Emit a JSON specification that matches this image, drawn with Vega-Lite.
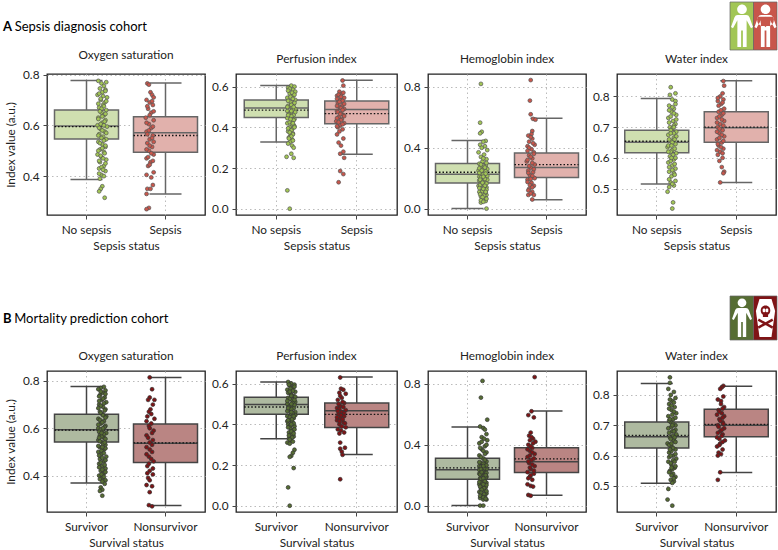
{"$schema":"https://vega.github.io/schema/vega-lite/v6.json","background":"white","padding":{"left":3,"top":1,"right":0,"bottom":0},"columns":4,"bounds":"flush","align":"each","spacing":{"column":31,"row":20},
"config":{"font":"Lato","view":{"stroke":"#222","strokeWidth":1.3},"point":{"opacity":1},"axis":{"labelFontSize":11.8,"titleFontSize":11.8,"titleFontWeight":"normal","labelColor":"#222","titleColor":"#222","domain":false,"tickColor":"#444","tickSize":4,"grid":true,"gridColor":"#bbb","gridDash":[1.5,3],"gridWidth":1},"axisX":{"labelAngle":0,"labelPadding":5,"titlePadding":5},"axisY":{"labelPadding":4,"titlePadding":6},"title":{"fontSize":11.8,"fontWeight":"normal","color":"#222","offset":8}},
"datasets":{
"a1b":[{"c":"No sepsis","lo":0.387,"q1":0.546,"med":0.597,"q3":0.66,"hi":0.776,"mean":0.595},{"c":"Sepsis","lo":0.33,"q1":0.494,"med":0.571,"q3":0.634,"hi":0.767,"mean":0.56}],
"a2b":[{"c":"No sepsis","lo":0.328,"q1":0.448,"med":0.495,"q3":0.534,"hi":0.605,"mean":0.484},{"c":"Sepsis","lo":0.267,"q1":0.418,"med":0.487,"q3":0.529,"hi":0.631,"mean":0.467}],
"a3b":[{"c":"No sepsis","lo":0,"q1":0.169,"med":0.226,"q3":0.296,"hi":0.447,"mean":0.239},{"c":"Sepsis","lo":0.059,"q1":0.204,"med":0.27,"q3":0.366,"hi":0.594,"mean":0.289}],
"a4b":[{"c":"No sepsis","lo":0.515,"q1":0.617,"med":0.651,"q3":0.69,"hi":0.793,"mean":0.654},{"c":"Sepsis","lo":0.52,"q1":0.651,"med":0.698,"q3":0.75,"hi":0.851,"mean":0.7}],
"b1b":[{"c":"Survivor","lo":0.369,"q1":0.542,"med":0.594,"q3":0.659,"hi":0.776,"mean":0.592},{"c":"Nonsurvivor","lo":0.273,"q1":0.455,"med":0.537,"q3":0.618,"hi":0.815,"mean":0.538}],
"b2b":[{"c":"Survivor","lo":0.329,"q1":0.449,"med":0.497,"q3":0.533,"hi":0.608,"mean":0.485},{"c":"Nonsurvivor","lo":0.251,"q1":0.384,"med":0.467,"q3":0.505,"hi":0.633,"mean":0.449}],
"b3b":[{"c":"Survivor","lo":0,"q1":0.173,"med":0.235,"q3":0.311,"hi":0.517,"mean":0.248},{"c":"Nonsurvivor","lo":0.068,"q1":0.217,"med":0.289,"q3":0.381,"hi":0.622,"mean":0.307}],
"b4b":[{"c":"Survivor","lo":0.509,"q1":0.625,"med":0.662,"q3":0.711,"hi":0.838,"mean":0.667},{"c":"Nonsurvivor","lo":0.544,"q1":0.662,"med":0.7,"q3":0.753,"hi":0.829,"mean":0.703}],
"a1p":[{"c":"No sepsis","v":0.775,"o":0.15},{"c":"No sepsis","v":0.77,"o":0.25},{"c":"No sepsis","v":0.765,"o":0.19},{"c":"No sepsis","v":0.755,"o":0.22},{"c":"No sepsis","v":0.745,"o":0.17},{"c":"No sepsis","v":0.74,"o":0.24},{"c":"No sepsis","v":0.73,"o":0.2},{"c":"No sepsis","v":0.72,"o":0.14},{"c":"No sepsis","v":0.71,"o":0.26},{"c":"No sepsis","v":0.7,"o":0.18},{"c":"No sepsis","v":0.69,"o":0.23},{"c":"No sepsis","v":0.68,"o":0.21},{"c":"No sepsis","v":0.67,"o":0.16},{"c":"No sepsis","v":0.66,"o":0.25},{"c":"No sepsis","v":0.65,"o":0.19},{"c":"No sepsis","v":0.64,"o":0.22},{"c":"No sepsis","v":0.63,"o":0.15},{"c":"No sepsis","v":0.62,"o":0.24},{"c":"No sepsis","v":0.61,"o":0.2},{"c":"No sepsis","v":0.6,"o":0.14},{"c":"No sepsis","v":0.595,"o":0.26},{"c":"No sepsis","v":0.585,"o":0.18},{"c":"No sepsis","v":0.575,"o":0.23},{"c":"No sepsis","v":0.565,"o":0.16},{"c":"No sepsis","v":0.555,"o":0.21},{"c":"No sepsis","v":0.545,"o":0.25},{"c":"No sepsis","v":0.535,"o":0.15},{"c":"No sepsis","v":0.525,"o":0.2},{"c":"No sepsis","v":0.515,"o":0.24},{"c":"No sepsis","v":0.505,"o":0.17},{"c":"No sepsis","v":0.495,"o":0.22},{"c":"No sepsis","v":0.485,"o":0.14},{"c":"No sepsis","v":0.475,"o":0.19},{"c":"No sepsis","v":0.465,"o":0.25},{"c":"No sepsis","v":0.455,"o":0.17},{"c":"No sepsis","v":0.44,"o":0.22},{"c":"No sepsis","v":0.43,"o":0.16},{"c":"No sepsis","v":0.42,"o":0.24},{"c":"No sepsis","v":0.405,"o":0.19},{"c":"No sepsis","v":0.39,"o":0.17},{"c":"No sepsis","v":0.36,"o":0.2},{"c":"No sepsis","v":0.35,"o":0.18},{"c":"No sepsis","v":0.34,"o":0.16},{"c":"No sepsis","v":0.315,"o":0.23},{"c":"No sepsis","v":0.735,"o":0.24},{"c":"No sepsis","v":0.725,"o":0.16},{"c":"No sepsis","v":0.715,"o":0.21},{"c":"No sepsis","v":0.705,"o":0.18},{"c":"No sepsis","v":0.695,"o":0.25},{"c":"No sepsis","v":0.685,"o":0.15},{"c":"No sepsis","v":0.675,"o":0.22},{"c":"No sepsis","v":0.665,"o":0.19},{"c":"No sepsis","v":0.655,"o":0.17},{"c":"No sepsis","v":0.645,"o":0.24},{"c":"No sepsis","v":0.635,"o":0.2},{"c":"No sepsis","v":0.625,"o":0.15},{"c":"No sepsis","v":0.615,"o":0.23},{"c":"No sepsis","v":0.605,"o":0.18},{"c":"No sepsis","v":0.6,"o":0.22},{"c":"No sepsis","v":0.59,"o":0.16},{"c":"No sepsis","v":0.58,"o":0.2},{"c":"No sepsis","v":0.57,"o":0.25},{"c":"No sepsis","v":0.56,"o":0.15},{"c":"No sepsis","v":0.55,"o":0.19},{"c":"No sepsis","v":0.54,"o":0.22},{"c":"No sepsis","v":0.53,"o":0.17},{"c":"No sepsis","v":0.52,"o":0.24},{"c":"No sepsis","v":0.51,"o":0.2},{"c":"No sepsis","v":0.5,"o":0.15},{"c":"No sepsis","v":0.49,"o":0.23},{"c":"No sepsis","v":0.48,"o":0.18},{"c":"No sepsis","v":0.47,"o":0.21},{"c":"No sepsis","v":0.46,"o":0.16},{"c":"No sepsis","v":0.45,"o":0.24},{"c":"No sepsis","v":0.435,"o":0.19},{"c":"No sepsis","v":0.425,"o":0.21},{"c":"No sepsis","v":0.41,"o":0.16},{"c":"No sepsis","v":0.4,"o":0.22},{"c":"Sepsis","v":0.765,"o":-0.23},{"c":"Sepsis","v":0.76,"o":-0.21},{"c":"Sepsis","v":0.73,"o":-0.19},{"c":"Sepsis","v":0.72,"o":-0.17},{"c":"Sepsis","v":0.71,"o":-0.15},{"c":"Sepsis","v":0.7,"o":-0.24},{"c":"Sepsis","v":0.69,"o":-0.2},{"c":"Sepsis","v":0.68,"o":-0.16},{"c":"Sepsis","v":0.665,"o":-0.22},{"c":"Sepsis","v":0.65,"o":-0.18},{"c":"Sepsis","v":0.63,"o":-0.25},{"c":"Sepsis","v":0.62,"o":-0.15},{"c":"Sepsis","v":0.605,"o":-0.21},{"c":"Sepsis","v":0.59,"o":-0.18},{"c":"Sepsis","v":0.575,"o":-0.24},{"c":"Sepsis","v":0.56,"o":-0.16},{"c":"Sepsis","v":0.545,"o":-0.2},{"c":"Sepsis","v":0.53,"o":-0.23},{"c":"Sepsis","v":0.515,"o":-0.17},{"c":"Sepsis","v":0.5,"o":-0.21},{"c":"Sepsis","v":0.485,"o":-0.15},{"c":"Sepsis","v":0.47,"o":-0.24},{"c":"Sepsis","v":0.455,"o":-0.19},{"c":"Sepsis","v":0.44,"o":-0.22},{"c":"Sepsis","v":0.415,"o":-0.15},{"c":"Sepsis","v":0.405,"o":-0.24},{"c":"Sepsis","v":0.395,"o":-0.18},{"c":"Sepsis","v":0.365,"o":-0.16},{"c":"Sepsis","v":0.35,"o":-0.23},{"c":"Sepsis","v":0.35,"o":-0.19},{"c":"Sepsis","v":0.33,"o":-0.24},{"c":"Sepsis","v":0.275,"o":-0.21},{"c":"Sepsis","v":0.27,"o":-0.24},{"c":"Sepsis","v":0.695,"o":-0.17},{"c":"Sepsis","v":0.675,"o":-0.23},{"c":"Sepsis","v":0.655,"o":-0.15},{"c":"Sepsis","v":0.64,"o":-0.2},{"c":"Sepsis","v":0.61,"o":-0.24},{"c":"Sepsis","v":0.595,"o":-0.16},{"c":"Sepsis","v":0.58,"o":-0.21},{"c":"Sepsis","v":0.565,"o":-0.23},{"c":"Sepsis","v":0.55,"o":-0.17},{"c":"Sepsis","v":0.535,"o":-0.15},{"c":"Sepsis","v":0.52,"o":-0.2},{"c":"Sepsis","v":0.505,"o":-0.24},{"c":"Sepsis","v":0.49,"o":-0.18},{"c":"Sepsis","v":0.475,"o":-0.22},{"c":"Sepsis","v":0.46,"o":-0.16},{"c":"Sepsis","v":0.445,"o":-0.2}],
"a2p":[{"c":"No sepsis","v":0.605,"o":0.2},{"c":"No sepsis","v":0.6,"o":0.24},{"c":"No sepsis","v":0.595,"o":0.16},{"c":"No sepsis","v":0.585,"o":0.22},{"c":"No sepsis","v":0.575,"o":0.25},{"c":"No sepsis","v":0.565,"o":0.18},{"c":"No sepsis","v":0.555,"o":0.22},{"c":"No sepsis","v":0.545,"o":0.15},{"c":"No sepsis","v":0.535,"o":0.25},{"c":"No sepsis","v":0.525,"o":0.19},{"c":"No sepsis","v":0.515,"o":0.23},{"c":"No sepsis","v":0.505,"o":0.16},{"c":"No sepsis","v":0.495,"o":0.21},{"c":"No sepsis","v":0.49,"o":0.25},{"c":"No sepsis","v":0.48,"o":0.15},{"c":"No sepsis","v":0.47,"o":0.19},{"c":"No sepsis","v":0.46,"o":0.23},{"c":"No sepsis","v":0.45,"o":0.17},{"c":"No sepsis","v":0.44,"o":0.24},{"c":"No sepsis","v":0.43,"o":0.2},{"c":"No sepsis","v":0.42,"o":0.15},{"c":"No sepsis","v":0.41,"o":0.23},{"c":"No sepsis","v":0.4,"o":0.18},{"c":"No sepsis","v":0.39,"o":0.21},{"c":"No sepsis","v":0.38,"o":0.16},{"c":"No sepsis","v":0.37,"o":0.22},{"c":"No sepsis","v":0.36,"o":0.19},{"c":"No sepsis","v":0.35,"o":0.17},{"c":"No sepsis","v":0.34,"o":0.21},{"c":"No sepsis","v":0.33,"o":0.19},{"c":"No sepsis","v":0.32,"o":0.16},{"c":"No sepsis","v":0.31,"o":0.21},{"c":"No sepsis","v":0.3,"o":0.23},{"c":"No sepsis","v":0.27,"o":0.2},{"c":"No sepsis","v":0.255,"o":0.14},{"c":"No sepsis","v":0.25,"o":0.23},{"c":"No sepsis","v":0.09,"o":0.15},{"c":"No sepsis","v":0,"o":0.18},{"c":"No sepsis","v":0.59,"o":0.18},{"c":"No sepsis","v":0.58,"o":0.16},{"c":"No sepsis","v":0.57,"o":0.21},{"c":"No sepsis","v":0.56,"o":0.24},{"c":"No sepsis","v":0.55,"o":0.19},{"c":"No sepsis","v":0.54,"o":0.22},{"c":"No sepsis","v":0.53,"o":0.16},{"c":"No sepsis","v":0.52,"o":0.24},{"c":"No sepsis","v":0.51,"o":0.2},{"c":"No sepsis","v":0.5,"o":0.15},{"c":"No sepsis","v":0.485,"o":0.22},{"c":"No sepsis","v":0.475,"o":0.25},{"c":"No sepsis","v":0.465,"o":0.17},{"c":"No sepsis","v":0.455,"o":0.2},{"c":"No sepsis","v":0.445,"o":0.15},{"c":"No sepsis","v":0.435,"o":0.23},{"c":"No sepsis","v":0.425,"o":0.18},{"c":"No sepsis","v":0.415,"o":0.21},{"c":"No sepsis","v":0.405,"o":0.24},{"c":"No sepsis","v":0.395,"o":0.16},{"c":"No sepsis","v":0.385,"o":0.2},{"c":"No sepsis","v":0.375,"o":0.18},{"c":"No sepsis","v":0.365,"o":0.22},{"c":"No sepsis","v":0.355,"o":0.2},{"c":"No sepsis","v":0.345,"o":0.17},{"c":"No sepsis","v":0.335,"o":0.22},{"c":"No sepsis","v":0.5,"o":0.23},{"c":"No sepsis","v":0.48,"o":0.2},{"c":"No sepsis","v":0.46,"o":0.16},{"c":"No sepsis","v":0.44,"o":0.19},{"c":"No sepsis","v":0.42,"o":0.22},{"c":"No sepsis","v":0.4,"o":0.24},{"c":"Sepsis","v":0.63,"o":-0.17},{"c":"Sepsis","v":0.605,"o":-0.16},{"c":"Sepsis","v":0.575,"o":-0.21},{"c":"Sepsis","v":0.565,"o":-0.18},{"c":"Sepsis","v":0.555,"o":-0.24},{"c":"Sepsis","v":0.545,"o":-0.15},{"c":"Sepsis","v":0.535,"o":-0.2},{"c":"Sepsis","v":0.52,"o":-0.23},{"c":"Sepsis","v":0.51,"o":-0.17},{"c":"Sepsis","v":0.5,"o":-0.21},{"c":"Sepsis","v":0.49,"o":-0.15},{"c":"Sepsis","v":0.48,"o":-0.24},{"c":"Sepsis","v":0.47,"o":-0.19},{"c":"Sepsis","v":0.46,"o":-0.16},{"c":"Sepsis","v":0.45,"o":-0.22},{"c":"Sepsis","v":0.44,"o":-0.18},{"c":"Sepsis","v":0.43,"o":-0.25},{"c":"Sepsis","v":0.42,"o":-0.15},{"c":"Sepsis","v":0.41,"o":-0.2},{"c":"Sepsis","v":0.4,"o":-0.23},{"c":"Sepsis","v":0.39,"o":-0.17},{"c":"Sepsis","v":0.38,"o":-0.21},{"c":"Sepsis","v":0.365,"o":-0.24},{"c":"Sepsis","v":0.345,"o":-0.16},{"c":"Sepsis","v":0.325,"o":-0.22},{"c":"Sepsis","v":0.31,"o":-0.19},{"c":"Sepsis","v":0.28,"o":-0.16},{"c":"Sepsis","v":0.27,"o":-0.2},{"c":"Sepsis","v":0.25,"o":-0.15},{"c":"Sepsis","v":0.185,"o":-0.2},{"c":"Sepsis","v":0.17,"o":-0.16},{"c":"Sepsis","v":0.13,"o":-0.22},{"c":"Sepsis","v":0.57,"o":-0.16},{"c":"Sepsis","v":0.56,"o":-0.22},{"c":"Sepsis","v":0.55,"o":-0.19},{"c":"Sepsis","v":0.54,"o":-0.24},{"c":"Sepsis","v":0.53,"o":-0.17},{"c":"Sepsis","v":0.525,"o":-0.21},{"c":"Sepsis","v":0.515,"o":-0.15},{"c":"Sepsis","v":0.505,"o":-0.24},{"c":"Sepsis","v":0.495,"o":-0.19},{"c":"Sepsis","v":0.485,"o":-0.17},{"c":"Sepsis","v":0.475,"o":-0.23},{"c":"Sepsis","v":0.465,"o":-0.2},{"c":"Sepsis","v":0.455,"o":-0.15},{"c":"Sepsis","v":0.445,"o":-0.24},{"c":"Sepsis","v":0.435,"o":-0.19},{"c":"Sepsis","v":0.425,"o":-0.22},{"c":"Sepsis","v":0.415,"o":-0.17},{"c":"Sepsis","v":0.405,"o":-0.24}],
"a3p":[{"c":"No sepsis","v":0.82,"o":0.17},{"c":"No sepsis","v":0.565,"o":0.16},{"c":"No sepsis","v":0.505,"o":0.18},{"c":"No sepsis","v":0.495,"o":0.16},{"c":"No sepsis","v":0.445,"o":0.23},{"c":"No sepsis","v":0.44,"o":0.2},{"c":"No sepsis","v":0.42,"o":0.16},{"c":"No sepsis","v":0.41,"o":0.22},{"c":"No sepsis","v":0.4,"o":0.18},{"c":"No sepsis","v":0.385,"o":0.25},{"c":"No sepsis","v":0.37,"o":0.14},{"c":"No sepsis","v":0.355,"o":0.21},{"c":"No sepsis","v":0.34,"o":0.17},{"c":"No sepsis","v":0.325,"o":0.24},{"c":"No sepsis","v":0.31,"o":0.19},{"c":"No sepsis","v":0.295,"o":0.15},{"c":"No sepsis","v":0.28,"o":0.23},{"c":"No sepsis","v":0.27,"o":0.18},{"c":"No sepsis","v":0.26,"o":0.25},{"c":"No sepsis","v":0.25,"o":0.14},{"c":"No sepsis","v":0.24,"o":0.21},{"c":"No sepsis","v":0.23,"o":0.17},{"c":"No sepsis","v":0.22,"o":0.24},{"c":"No sepsis","v":0.21,"o":0.15},{"c":"No sepsis","v":0.2,"o":0.2},{"c":"No sepsis","v":0.19,"o":0.25},{"c":"No sepsis","v":0.18,"o":0.16},{"c":"No sepsis","v":0.17,"o":0.22},{"c":"No sepsis","v":0.16,"o":0.19},{"c":"No sepsis","v":0.15,"o":0.14},{"c":"No sepsis","v":0.14,"o":0.24},{"c":"No sepsis","v":0.13,"o":0.18},{"c":"No sepsis","v":0.12,"o":0.22},{"c":"No sepsis","v":0.11,"o":0.15},{"c":"No sepsis","v":0.1,"o":0.2},{"c":"No sepsis","v":0.09,"o":0.24},{"c":"No sepsis","v":0.08,"o":0.17},{"c":"No sepsis","v":0.07,"o":0.22},{"c":"No sepsis","v":0.06,"o":0.19},{"c":"No sepsis","v":0.05,"o":0.23},{"c":"No sepsis","v":0.04,"o":0.17},{"c":"No sepsis","v":0,"o":0.24},{"c":"No sepsis","v":0.33,"o":0.2},{"c":"No sepsis","v":0.3,"o":0.24},{"c":"No sepsis","v":0.29,"o":0.17},{"c":"No sepsis","v":0.275,"o":0.21},{"c":"No sepsis","v":0.265,"o":0.15},{"c":"No sepsis","v":0.255,"o":0.19},{"c":"No sepsis","v":0.245,"o":0.23},{"c":"No sepsis","v":0.235,"o":0.15},{"c":"No sepsis","v":0.225,"o":0.2},{"c":"No sepsis","v":0.215,"o":0.25},{"c":"No sepsis","v":0.205,"o":0.17},{"c":"No sepsis","v":0.195,"o":0.22},{"c":"No sepsis","v":0.185,"o":0.15},{"c":"No sepsis","v":0.175,"o":0.19},{"c":"No sepsis","v":0.165,"o":0.24},{"c":"No sepsis","v":0.155,"o":0.16},{"c":"No sepsis","v":0.145,"o":0.21},{"c":"No sepsis","v":0.135,"o":0.15},{"c":"No sepsis","v":0.125,"o":0.24},{"c":"No sepsis","v":0.115,"o":0.19},{"c":"No sepsis","v":0.105,"o":0.23},{"c":"No sepsis","v":0.095,"o":0.16},{"c":"No sepsis","v":0.085,"o":0.21},{"c":"No sepsis","v":0.075,"o":0.19},{"c":"No sepsis","v":0.065,"o":0.24},{"c":"No sepsis","v":0.055,"o":0.17},{"c":"No sepsis","v":0.045,"o":0.2},{"c":"No sepsis","v":0.27,"o":0.22},{"c":"No sepsis","v":0.25,"o":0.18},{"c":"No sepsis","v":0.23,"o":0.23},{"c":"No sepsis","v":0.21,"o":0.2},{"c":"No sepsis","v":0.19,"o":0.16},{"c":"No sepsis","v":0.17,"o":0.19},{"c":"No sepsis","v":0.15,"o":0.22},{"c":"No sepsis","v":0.13,"o":0.2},{"c":"No sepsis","v":0.11,"o":0.23},{"c":"Sepsis","v":0.845,"o":-0.2},{"c":"Sepsis","v":0.71,"o":-0.21},{"c":"Sepsis","v":0.62,"o":-0.2},{"c":"Sepsis","v":0.59,"o":-0.17},{"c":"Sepsis","v":0.585,"o":-0.14},{"c":"Sepsis","v":0.51,"o":-0.18},{"c":"Sepsis","v":0.49,"o":-0.19},{"c":"Sepsis","v":0.48,"o":-0.23},{"c":"Sepsis","v":0.46,"o":-0.18},{"c":"Sepsis","v":0.44,"o":-0.22},{"c":"Sepsis","v":0.42,"o":-0.15},{"c":"Sepsis","v":0.41,"o":-0.24},{"c":"Sepsis","v":0.39,"o":-0.19},{"c":"Sepsis","v":0.37,"o":-0.16},{"c":"Sepsis","v":0.35,"o":-0.22},{"c":"Sepsis","v":0.33,"o":-0.18},{"c":"Sepsis","v":0.31,"o":-0.25},{"c":"Sepsis","v":0.29,"o":-0.15},{"c":"Sepsis","v":0.27,"o":-0.2},{"c":"Sepsis","v":0.25,"o":-0.23},{"c":"Sepsis","v":0.24,"o":-0.17},{"c":"Sepsis","v":0.22,"o":-0.21},{"c":"Sepsis","v":0.2,"o":-0.15},{"c":"Sepsis","v":0.19,"o":-0.24},{"c":"Sepsis","v":0.17,"o":-0.19},{"c":"Sepsis","v":0.15,"o":-0.16},{"c":"Sepsis","v":0.13,"o":-0.22},{"c":"Sepsis","v":0.11,"o":-0.18},{"c":"Sepsis","v":0.09,"o":-0.23},{"c":"Sepsis","v":0.09,"o":-0.16},{"c":"Sepsis","v":0.06,"o":-0.18},{"c":"Sepsis","v":0.47,"o":-0.2},{"c":"Sepsis","v":0.43,"o":-0.17},{"c":"Sepsis","v":0.4,"o":-0.22},{"c":"Sepsis","v":0.38,"o":-0.24},{"c":"Sepsis","v":0.36,"o":-0.16},{"c":"Sepsis","v":0.34,"o":-0.2},{"c":"Sepsis","v":0.32,"o":-0.24},{"c":"Sepsis","v":0.3,"o":-0.18},{"c":"Sepsis","v":0.28,"o":-0.22},{"c":"Sepsis","v":0.26,"o":-0.16},{"c":"Sepsis","v":0.235,"o":-0.23},{"c":"Sepsis","v":0.215,"o":-0.18},{"c":"Sepsis","v":0.195,"o":-0.2},{"c":"Sepsis","v":0.175,"o":-0.24},{"c":"Sepsis","v":0.155,"o":-0.21},{"c":"Sepsis","v":0.14,"o":-0.18},{"c":"Sepsis","v":0.12,"o":-0.23},{"c":"Sepsis","v":0.1,"o":-0.2}],
"a4p":[{"c":"No sepsis","v":0.83,"o":0.18},{"c":"No sepsis","v":0.81,"o":0.24},{"c":"No sepsis","v":0.805,"o":0.17},{"c":"No sepsis","v":0.79,"o":0.2},{"c":"No sepsis","v":0.785,"o":0.24},{"c":"No sepsis","v":0.77,"o":0.16},{"c":"No sepsis","v":0.76,"o":0.22},{"c":"No sepsis","v":0.75,"o":0.19},{"c":"No sepsis","v":0.74,"o":0.25},{"c":"No sepsis","v":0.73,"o":0.15},{"c":"No sepsis","v":0.72,"o":0.21},{"c":"No sepsis","v":0.71,"o":0.24},{"c":"No sepsis","v":0.7,"o":0.17},{"c":"No sepsis","v":0.695,"o":0.2},{"c":"No sepsis","v":0.685,"o":0.25},{"c":"No sepsis","v":0.675,"o":0.15},{"c":"No sepsis","v":0.665,"o":0.22},{"c":"No sepsis","v":0.655,"o":0.18},{"c":"No sepsis","v":0.645,"o":0.24},{"c":"No sepsis","v":0.635,"o":0.14},{"c":"No sepsis","v":0.625,"o":0.2},{"c":"No sepsis","v":0.615,"o":0.25},{"c":"No sepsis","v":0.605,"o":0.17},{"c":"No sepsis","v":0.595,"o":0.22},{"c":"No sepsis","v":0.585,"o":0.15},{"c":"No sepsis","v":0.575,"o":0.2},{"c":"No sepsis","v":0.565,"o":0.24},{"c":"No sepsis","v":0.555,"o":0.16},{"c":"No sepsis","v":0.55,"o":0.22},{"c":"No sepsis","v":0.54,"o":0.19},{"c":"No sepsis","v":0.525,"o":0.24},{"c":"No sepsis","v":0.52,"o":0.18},{"c":"No sepsis","v":0.51,"o":0.22},{"c":"No sepsis","v":0.505,"o":0.16},{"c":"No sepsis","v":0.49,"o":0.14},{"c":"No sepsis","v":0.455,"o":0.21},{"c":"No sepsis","v":0.435,"o":0.2},{"c":"No sepsis","v":0.775,"o":0.24},{"c":"No sepsis","v":0.765,"o":0.2},{"c":"No sepsis","v":0.755,"o":0.16},{"c":"No sepsis","v":0.745,"o":0.22},{"c":"No sepsis","v":0.735,"o":0.18},{"c":"No sepsis","v":0.725,"o":0.25},{"c":"No sepsis","v":0.715,"o":0.16},{"c":"No sepsis","v":0.705,"o":0.22},{"c":"No sepsis","v":0.69,"o":0.18},{"c":"No sepsis","v":0.68,"o":0.22},{"c":"No sepsis","v":0.67,"o":0.25},{"c":"No sepsis","v":0.66,"o":0.16},{"c":"No sepsis","v":0.65,"o":0.2},{"c":"No sepsis","v":0.64,"o":0.15},{"c":"No sepsis","v":0.63,"o":0.23},{"c":"No sepsis","v":0.62,"o":0.18},{"c":"No sepsis","v":0.61,"o":0.21},{"c":"No sepsis","v":0.6,"o":0.24},{"c":"No sepsis","v":0.59,"o":0.18},{"c":"No sepsis","v":0.58,"o":0.23},{"c":"No sepsis","v":0.57,"o":0.16},{"c":"No sepsis","v":0.56,"o":0.2},{"c":"No sepsis","v":0.545,"o":0.23},{"c":"No sepsis","v":0.53,"o":0.16},{"c":"No sepsis","v":0.515,"o":0.2},{"c":"No sepsis","v":0.7,"o":0.22},{"c":"No sepsis","v":0.68,"o":0.18},{"c":"No sepsis","v":0.66,"o":0.23},{"c":"No sepsis","v":0.64,"o":0.19},{"c":"No sepsis","v":0.62,"o":0.15},{"c":"No sepsis","v":0.6,"o":0.19},{"c":"Sepsis","v":0.85,"o":-0.16},{"c":"Sepsis","v":0.835,"o":-0.15},{"c":"Sepsis","v":0.81,"o":-0.17},{"c":"Sepsis","v":0.8,"o":-0.2},{"c":"Sepsis","v":0.79,"o":-0.16},{"c":"Sepsis","v":0.785,"o":-0.23},{"c":"Sepsis","v":0.775,"o":-0.19},{"c":"Sepsis","v":0.76,"o":-0.15},{"c":"Sepsis","v":0.75,"o":-0.22},{"c":"Sepsis","v":0.74,"o":-0.18},{"c":"Sepsis","v":0.73,"o":-0.24},{"c":"Sepsis","v":0.72,"o":-0.15},{"c":"Sepsis","v":0.71,"o":-0.2},{"c":"Sepsis","v":0.7,"o":-0.23},{"c":"Sepsis","v":0.69,"o":-0.17},{"c":"Sepsis","v":0.68,"o":-0.21},{"c":"Sepsis","v":0.67,"o":-0.15},{"c":"Sepsis","v":0.66,"o":-0.24},{"c":"Sepsis","v":0.65,"o":-0.18},{"c":"Sepsis","v":0.64,"o":-0.22},{"c":"Sepsis","v":0.63,"o":-0.16},{"c":"Sepsis","v":0.62,"o":-0.2},{"c":"Sepsis","v":0.61,"o":-0.23},{"c":"Sepsis","v":0.6,"o":-0.17},{"c":"Sepsis","v":0.59,"o":-0.21},{"c":"Sepsis","v":0.57,"o":-0.18},{"c":"Sepsis","v":0.555,"o":-0.15},{"c":"Sepsis","v":0.55,"o":-0.16},{"c":"Sepsis","v":0.52,"o":-0.2},{"c":"Sepsis","v":0.795,"o":-0.23},{"c":"Sepsis","v":0.78,"o":-0.17},{"c":"Sepsis","v":0.77,"o":-0.22},{"c":"Sepsis","v":0.755,"o":-0.19},{"c":"Sepsis","v":0.745,"o":-0.16},{"c":"Sepsis","v":0.735,"o":-0.21},{"c":"Sepsis","v":0.725,"o":-0.18},{"c":"Sepsis","v":0.715,"o":-0.24},{"c":"Sepsis","v":0.705,"o":-0.16},{"c":"Sepsis","v":0.695,"o":-0.21},{"c":"Sepsis","v":0.685,"o":-0.24},{"c":"Sepsis","v":0.675,"o":-0.18},{"c":"Sepsis","v":0.665,"o":-0.21},{"c":"Sepsis","v":0.655,"o":-0.16},{"c":"Sepsis","v":0.645,"o":-0.23},{"c":"Sepsis","v":0.635,"o":-0.19},{"c":"Sepsis","v":0.625,"o":-0.24},{"c":"Sepsis","v":0.615,"o":-0.17}],
"b1p":[{"c":"Survivor","v":0.775,"o":0.22},{"c":"Survivor","v":0.77,"o":0.18},{"c":"Survivor","v":0.765,"o":0.15},{"c":"Survivor","v":0.76,"o":0.24},{"c":"Survivor","v":0.75,"o":0.2},{"c":"Survivor","v":0.74,"o":0.17},{"c":"Survivor","v":0.73,"o":0.23},{"c":"Survivor","v":0.72,"o":0.19},{"c":"Survivor","v":0.71,"o":0.25},{"c":"Survivor","v":0.7,"o":0.16},{"c":"Survivor","v":0.69,"o":0.21},{"c":"Survivor","v":0.68,"o":0.24},{"c":"Survivor","v":0.67,"o":0.17},{"c":"Survivor","v":0.66,"o":0.2},{"c":"Survivor","v":0.65,"o":0.25},{"c":"Survivor","v":0.64,"o":0.15},{"c":"Survivor","v":0.63,"o":0.22},{"c":"Survivor","v":0.62,"o":0.18},{"c":"Survivor","v":0.61,"o":0.24},{"c":"Survivor","v":0.6,"o":0.15},{"c":"Survivor","v":0.59,"o":0.2},{"c":"Survivor","v":0.58,"o":0.25},{"c":"Survivor","v":0.57,"o":0.17},{"c":"Survivor","v":0.56,"o":0.22},{"c":"Survivor","v":0.55,"o":0.15},{"c":"Survivor","v":0.54,"o":0.2},{"c":"Survivor","v":0.53,"o":0.24},{"c":"Survivor","v":0.52,"o":0.17},{"c":"Survivor","v":0.51,"o":0.22},{"c":"Survivor","v":0.5,"o":0.15},{"c":"Survivor","v":0.49,"o":0.19},{"c":"Survivor","v":0.48,"o":0.25},{"c":"Survivor","v":0.47,"o":0.17},{"c":"Survivor","v":0.46,"o":0.22},{"c":"Survivor","v":0.45,"o":0.16},{"c":"Survivor","v":0.44,"o":0.2},{"c":"Survivor","v":0.43,"o":0.24},{"c":"Survivor","v":0.42,"o":0.18},{"c":"Survivor","v":0.41,"o":0.22},{"c":"Survivor","v":0.4,"o":0.16},{"c":"Survivor","v":0.39,"o":0.2},{"c":"Survivor","v":0.38,"o":0.24},{"c":"Survivor","v":0.365,"o":0.23},{"c":"Survivor","v":0.35,"o":0.18},{"c":"Survivor","v":0.34,"o":0.2},{"c":"Survivor","v":0.335,"o":0.17},{"c":"Survivor","v":0.315,"o":0.2},{"c":"Survivor","v":0.755,"o":0.18},{"c":"Survivor","v":0.745,"o":0.24},{"c":"Survivor","v":0.735,"o":0.16},{"c":"Survivor","v":0.725,"o":0.21},{"c":"Survivor","v":0.715,"o":0.16},{"c":"Survivor","v":0.705,"o":0.22},{"c":"Survivor","v":0.695,"o":0.18},{"c":"Survivor","v":0.685,"o":0.15},{"c":"Survivor","v":0.675,"o":0.23},{"c":"Survivor","v":0.665,"o":0.18},{"c":"Survivor","v":0.655,"o":0.21},{"c":"Survivor","v":0.645,"o":0.24},{"c":"Survivor","v":0.635,"o":0.17},{"c":"Survivor","v":0.625,"o":0.2},{"c":"Survivor","v":0.615,"o":0.15},{"c":"Survivor","v":0.605,"o":0.23},{"c":"Survivor","v":0.595,"o":0.18},{"c":"Survivor","v":0.585,"o":0.16},{"c":"Survivor","v":0.575,"o":0.22},{"c":"Survivor","v":0.565,"o":0.19},{"c":"Survivor","v":0.555,"o":0.24},{"c":"Survivor","v":0.545,"o":0.17},{"c":"Survivor","v":0.535,"o":0.21},{"c":"Survivor","v":0.525,"o":0.15},{"c":"Survivor","v":0.515,"o":0.24},{"c":"Survivor","v":0.505,"o":0.19},{"c":"Survivor","v":0.495,"o":0.22},{"c":"Survivor","v":0.485,"o":0.16},{"c":"Survivor","v":0.475,"o":0.2},{"c":"Survivor","v":0.465,"o":0.24},{"c":"Survivor","v":0.455,"o":0.18},{"c":"Survivor","v":0.445,"o":0.23},{"c":"Survivor","v":0.435,"o":0.16},{"c":"Survivor","v":0.425,"o":0.2},{"c":"Survivor","v":0.415,"o":0.24},{"c":"Survivor","v":0.405,"o":0.19},{"c":"Survivor","v":0.395,"o":0.22},{"c":"Survivor","v":0.385,"o":0.17},{"c":"Survivor","v":0.375,"o":0.2},{"c":"Survivor","v":0.6,"o":0.21},{"c":"Survivor","v":0.58,"o":0.19},{"c":"Survivor","v":0.56,"o":0.16},{"c":"Survivor","v":0.54,"o":0.23},{"c":"Survivor","v":0.52,"o":0.2},{"c":"Nonsurvivor","v":0.815,"o":-0.2},{"c":"Nonsurvivor","v":0.765,"o":-0.17},{"c":"Nonsurvivor","v":0.73,"o":-0.2},{"c":"Nonsurvivor","v":0.72,"o":-0.22},{"c":"Nonsurvivor","v":0.72,"o":-0.14},{"c":"Nonsurvivor","v":0.68,"o":-0.19},{"c":"Nonsurvivor","v":0.67,"o":-0.21},{"c":"Nonsurvivor","v":0.64,"o":-0.14},{"c":"Nonsurvivor","v":0.63,"o":-0.24},{"c":"Nonsurvivor","v":0.62,"o":-0.18},{"c":"Nonsurvivor","v":0.61,"o":-0.21},{"c":"Nonsurvivor","v":0.59,"o":-0.15},{"c":"Nonsurvivor","v":0.57,"o":-0.24},{"c":"Nonsurvivor","v":0.55,"o":-0.16},{"c":"Nonsurvivor","v":0.54,"o":-0.2},{"c":"Nonsurvivor","v":0.52,"o":-0.24},{"c":"Nonsurvivor","v":0.5,"o":-0.17},{"c":"Nonsurvivor","v":0.48,"o":-0.21},{"c":"Nonsurvivor","v":0.46,"o":-0.15},{"c":"Nonsurvivor","v":0.44,"o":-0.23},{"c":"Nonsurvivor","v":0.42,"o":-0.2},{"c":"Nonsurvivor","v":0.405,"o":-0.16},{"c":"Nonsurvivor","v":0.39,"o":-0.22},{"c":"Nonsurvivor","v":0.36,"o":-0.24},{"c":"Nonsurvivor","v":0.355,"o":-0.17},{"c":"Nonsurvivor","v":0.33,"o":-0.2},{"c":"Nonsurvivor","v":0.275,"o":-0.21},{"c":"Nonsurvivor","v":0.27,"o":-0.17},{"c":"Nonsurvivor","v":0.7,"o":-0.16},{"c":"Nonsurvivor","v":0.66,"o":-0.18},{"c":"Nonsurvivor","v":0.65,"o":-0.23},{"c":"Nonsurvivor","v":0.6,"o":-0.2},{"c":"Nonsurvivor","v":0.58,"o":-0.17},{"c":"Nonsurvivor","v":0.56,"o":-0.22},{"c":"Nonsurvivor","v":0.53,"o":-0.17},{"c":"Nonsurvivor","v":0.51,"o":-0.2},{"c":"Nonsurvivor","v":0.49,"o":-0.24},{"c":"Nonsurvivor","v":0.47,"o":-0.18},{"c":"Nonsurvivor","v":0.45,"o":-0.21},{"c":"Nonsurvivor","v":0.43,"o":-0.16},{"c":"Nonsurvivor","v":0.41,"o":-0.23},{"c":"Nonsurvivor","v":0.38,"o":-0.2}],
"b2p":[{"c":"Survivor","v":0.608,"o":0.16},{"c":"Survivor","v":0.6,"o":0.2},{"c":"Survivor","v":0.595,"o":0.24},{"c":"Survivor","v":0.59,"o":0.18},{"c":"Survivor","v":0.58,"o":0.22},{"c":"Survivor","v":0.57,"o":0.15},{"c":"Survivor","v":0.56,"o":0.25},{"c":"Survivor","v":0.55,"o":0.19},{"c":"Survivor","v":0.54,"o":0.23},{"c":"Survivor","v":0.53,"o":0.16},{"c":"Survivor","v":0.52,"o":0.21},{"c":"Survivor","v":0.51,"o":0.25},{"c":"Survivor","v":0.5,"o":0.15},{"c":"Survivor","v":0.49,"o":0.19},{"c":"Survivor","v":0.48,"o":0.23},{"c":"Survivor","v":0.47,"o":0.16},{"c":"Survivor","v":0.46,"o":0.25},{"c":"Survivor","v":0.45,"o":0.2},{"c":"Survivor","v":0.44,"o":0.15},{"c":"Survivor","v":0.43,"o":0.23},{"c":"Survivor","v":0.42,"o":0.18},{"c":"Survivor","v":0.41,"o":0.21},{"c":"Survivor","v":0.4,"o":0.16},{"c":"Survivor","v":0.39,"o":0.24},{"c":"Survivor","v":0.38,"o":0.19},{"c":"Survivor","v":0.37,"o":0.22},{"c":"Survivor","v":0.36,"o":0.17},{"c":"Survivor","v":0.35,"o":0.2},{"c":"Survivor","v":0.34,"o":0.23},{"c":"Survivor","v":0.33,"o":0.17},{"c":"Survivor","v":0.32,"o":0.2},{"c":"Survivor","v":0.31,"o":0.15},{"c":"Survivor","v":0.305,"o":0.18},{"c":"Survivor","v":0.275,"o":0.24},{"c":"Survivor","v":0.26,"o":0.22},{"c":"Survivor","v":0.245,"o":0.2},{"c":"Survivor","v":0.24,"o":0.18},{"c":"Survivor","v":0.185,"o":0.23},{"c":"Survivor","v":0.09,"o":0.16},{"c":"Survivor","v":0,"o":0.18},{"c":"Survivor","v":0.595,"o":0.17},{"c":"Survivor","v":0.585,"o":0.24},{"c":"Survivor","v":0.575,"o":0.19},{"c":"Survivor","v":0.565,"o":0.22},{"c":"Survivor","v":0.555,"o":0.16},{"c":"Survivor","v":0.545,"o":0.2},{"c":"Survivor","v":0.535,"o":0.25},{"c":"Survivor","v":0.525,"o":0.18},{"c":"Survivor","v":0.515,"o":0.15},{"c":"Survivor","v":0.505,"o":0.22},{"c":"Survivor","v":0.495,"o":0.24},{"c":"Survivor","v":0.485,"o":0.17},{"c":"Survivor","v":0.475,"o":0.2},{"c":"Survivor","v":0.465,"o":0.15},{"c":"Survivor","v":0.455,"o":0.22},{"c":"Survivor","v":0.445,"o":0.25},{"c":"Survivor","v":0.435,"o":0.18},{"c":"Survivor","v":0.425,"o":0.21},{"c":"Survivor","v":0.415,"o":0.15},{"c":"Survivor","v":0.405,"o":0.23},{"c":"Survivor","v":0.395,"o":0.19},{"c":"Survivor","v":0.385,"o":0.16},{"c":"Survivor","v":0.375,"o":0.24},{"c":"Survivor","v":0.365,"o":0.2},{"c":"Survivor","v":0.355,"o":0.23},{"c":"Survivor","v":0.345,"o":0.17},{"c":"Survivor","v":0.335,"o":0.21},{"c":"Survivor","v":0.325,"o":0.18},{"c":"Survivor","v":0.315,"o":0.22},{"c":"Survivor","v":0.56,"o":0.18},{"c":"Survivor","v":0.54,"o":0.2},{"c":"Survivor","v":0.52,"o":0.24},{"c":"Survivor","v":0.5,"o":0.2},{"c":"Survivor","v":0.48,"o":0.16},{"c":"Survivor","v":0.46,"o":0.2},{"c":"Survivor","v":0.44,"o":0.23},{"c":"Survivor","v":0.42,"o":0.16},{"c":"Survivor","v":0.4,"o":0.2},{"c":"Nonsurvivor","v":0.63,"o":-0.2},{"c":"Nonsurvivor","v":0.575,"o":-0.19},{"c":"Nonsurvivor","v":0.57,"o":-0.16},{"c":"Nonsurvivor","v":0.555,"o":-0.21},{"c":"Nonsurvivor","v":0.55,"o":-0.13},{"c":"Nonsurvivor","v":0.53,"o":-0.18},{"c":"Nonsurvivor","v":0.52,"o":-0.23},{"c":"Nonsurvivor","v":0.505,"o":-0.15},{"c":"Nonsurvivor","v":0.49,"o":-0.2},{"c":"Nonsurvivor","v":0.48,"o":-0.24},{"c":"Nonsurvivor","v":0.47,"o":-0.13},{"c":"Nonsurvivor","v":0.46,"o":-0.18},{"c":"Nonsurvivor","v":0.45,"o":-0.22},{"c":"Nonsurvivor","v":0.44,"o":-0.15},{"c":"Nonsurvivor","v":0.43,"o":-0.2},{"c":"Nonsurvivor","v":0.42,"o":-0.24},{"c":"Nonsurvivor","v":0.41,"o":-0.16},{"c":"Nonsurvivor","v":0.4,"o":-0.21},{"c":"Nonsurvivor","v":0.385,"o":-0.13},{"c":"Nonsurvivor","v":0.37,"o":-0.19},{"c":"Nonsurvivor","v":0.36,"o":-0.15},{"c":"Nonsurvivor","v":0.355,"o":-0.21},{"c":"Nonsurvivor","v":0.31,"o":-0.2},{"c":"Nonsurvivor","v":0.285,"o":-0.14},{"c":"Nonsurvivor","v":0.28,"o":-0.2},{"c":"Nonsurvivor","v":0.265,"o":-0.18},{"c":"Nonsurvivor","v":0.25,"o":-0.17},{"c":"Nonsurvivor","v":0.13,"o":-0.2},{"c":"Nonsurvivor","v":0.54,"o":-0.2},{"c":"Nonsurvivor","v":0.51,"o":-0.17},{"c":"Nonsurvivor","v":0.5,"o":-0.22},{"c":"Nonsurvivor","v":0.485,"o":-0.16},{"c":"Nonsurvivor","v":0.475,"o":-0.21},{"c":"Nonsurvivor","v":0.465,"o":-0.23},{"c":"Nonsurvivor","v":0.455,"o":-0.15},{"c":"Nonsurvivor","v":0.445,"o":-0.19},{"c":"Nonsurvivor","v":0.435,"o":-0.24},{"c":"Nonsurvivor","v":0.425,"o":-0.17},{"c":"Nonsurvivor","v":0.415,"o":-0.21},{"c":"Nonsurvivor","v":0.405,"o":-0.14},{"c":"Nonsurvivor","v":0.39,"o":-0.18},{"c":"Nonsurvivor","v":0.375,"o":-0.23}],
"b3p":[{"c":"Survivor","v":0.82,"o":0.19},{"c":"Survivor","v":0.71,"o":0.17},{"c":"Survivor","v":0.565,"o":0.25},{"c":"Survivor","v":0.52,"o":0.16},{"c":"Survivor","v":0.51,"o":0.2},{"c":"Survivor","v":0.5,"o":0.22},{"c":"Survivor","v":0.47,"o":0.24},{"c":"Survivor","v":0.45,"o":0.18},{"c":"Survivor","v":0.43,"o":0.25},{"c":"Survivor","v":0.41,"o":0.15},{"c":"Survivor","v":0.39,"o":0.22},{"c":"Survivor","v":0.37,"o":0.18},{"c":"Survivor","v":0.35,"o":0.24},{"c":"Survivor","v":0.33,"o":0.15},{"c":"Survivor","v":0.31,"o":0.2},{"c":"Survivor","v":0.29,"o":0.24},{"c":"Survivor","v":0.28,"o":0.17},{"c":"Survivor","v":0.27,"o":0.22},{"c":"Survivor","v":0.26,"o":0.15},{"c":"Survivor","v":0.25,"o":0.19},{"c":"Survivor","v":0.24,"o":0.24},{"c":"Survivor","v":0.23,"o":0.17},{"c":"Survivor","v":0.22,"o":0.22},{"c":"Survivor","v":0.21,"o":0.15},{"c":"Survivor","v":0.2,"o":0.2},{"c":"Survivor","v":0.19,"o":0.24},{"c":"Survivor","v":0.18,"o":0.16},{"c":"Survivor","v":0.17,"o":0.21},{"c":"Survivor","v":0.16,"o":0.18},{"c":"Survivor","v":0.15,"o":0.24},{"c":"Survivor","v":0.14,"o":0.15},{"c":"Survivor","v":0.13,"o":0.2},{"c":"Survivor","v":0.12,"o":0.23},{"c":"Survivor","v":0.11,"o":0.17},{"c":"Survivor","v":0.1,"o":0.21},{"c":"Survivor","v":0.09,"o":0.15},{"c":"Survivor","v":0.08,"o":0.24},{"c":"Survivor","v":0.07,"o":0.19},{"c":"Survivor","v":0.06,"o":0.22},{"c":"Survivor","v":0.05,"o":0.16},{"c":"Survivor","v":0.04,"o":0.24},{"c":"Survivor","v":0.04,"o":0.2},{"c":"Survivor","v":0,"o":0.16},{"c":"Survivor","v":0,"o":0.2},{"c":"Survivor","v":0.44,"o":0.21},{"c":"Survivor","v":0.42,"o":0.18},{"c":"Survivor","v":0.4,"o":0.24},{"c":"Survivor","v":0.38,"o":0.16},{"c":"Survivor","v":0.36,"o":0.2},{"c":"Survivor","v":0.34,"o":0.22},{"c":"Survivor","v":0.32,"o":0.17},{"c":"Survivor","v":0.3,"o":0.22},{"c":"Survivor","v":0.285,"o":0.15},{"c":"Survivor","v":0.275,"o":0.2},{"c":"Survivor","v":0.265,"o":0.24},{"c":"Survivor","v":0.255,"o":0.17},{"c":"Survivor","v":0.245,"o":0.21},{"c":"Survivor","v":0.235,"o":0.15},{"c":"Survivor","v":0.225,"o":0.19},{"c":"Survivor","v":0.215,"o":0.24},{"c":"Survivor","v":0.205,"o":0.16},{"c":"Survivor","v":0.195,"o":0.21},{"c":"Survivor","v":0.185,"o":0.23},{"c":"Survivor","v":0.175,"o":0.17},{"c":"Survivor","v":0.165,"o":0.21},{"c":"Survivor","v":0.155,"o":0.15},{"c":"Survivor","v":0.145,"o":0.19},{"c":"Survivor","v":0.135,"o":0.24},{"c":"Survivor","v":0.125,"o":0.16},{"c":"Survivor","v":0.115,"o":0.21},{"c":"Survivor","v":0.105,"o":0.18},{"c":"Survivor","v":0.095,"o":0.24},{"c":"Survivor","v":0.085,"o":0.17},{"c":"Survivor","v":0.075,"o":0.21},{"c":"Survivor","v":0.065,"o":0.16},{"c":"Survivor","v":0.055,"o":0.2},{"c":"Survivor","v":0.045,"o":0.23},{"c":"Survivor","v":0.26,"o":0.2},{"c":"Survivor","v":0.24,"o":0.17},{"c":"Survivor","v":0.22,"o":0.18},{"c":"Survivor","v":0.2,"o":0.23},{"c":"Survivor","v":0.18,"o":0.2},{"c":"Survivor","v":0.16,"o":0.22},{"c":"Survivor","v":0.14,"o":0.2},{"c":"Nonsurvivor","v":0.845,"o":-0.15},{"c":"Nonsurvivor","v":0.62,"o":-0.19},{"c":"Nonsurvivor","v":0.595,"o":-0.23},{"c":"Nonsurvivor","v":0.58,"o":-0.16},{"c":"Nonsurvivor","v":0.48,"o":-0.2},{"c":"Nonsurvivor","v":0.46,"o":-0.22},{"c":"Nonsurvivor","v":0.44,"o":-0.17},{"c":"Nonsurvivor","v":0.42,"o":-0.14},{"c":"Nonsurvivor","v":0.4,"o":-0.23},{"c":"Nonsurvivor","v":0.38,"o":-0.18},{"c":"Nonsurvivor","v":0.36,"o":-0.21},{"c":"Nonsurvivor","v":0.34,"o":-0.15},{"c":"Nonsurvivor","v":0.32,"o":-0.24},{"c":"Nonsurvivor","v":0.3,"o":-0.19},{"c":"Nonsurvivor","v":0.28,"o":-0.22},{"c":"Nonsurvivor","v":0.26,"o":-0.15},{"c":"Nonsurvivor","v":0.24,"o":-0.2},{"c":"Nonsurvivor","v":0.22,"o":-0.24},{"c":"Nonsurvivor","v":0.21,"o":-0.16},{"c":"Nonsurvivor","v":0.19,"o":-0.21},{"c":"Nonsurvivor","v":0.17,"o":-0.18},{"c":"Nonsurvivor","v":0.14,"o":-0.24},{"c":"Nonsurvivor","v":0.13,"o":-0.2},{"c":"Nonsurvivor","v":0.125,"o":-0.17},{"c":"Nonsurvivor","v":0.07,"o":-0.23},{"c":"Nonsurvivor","v":0.065,"o":-0.2},{"c":"Nonsurvivor","v":0.45,"o":-0.19},{"c":"Nonsurvivor","v":0.43,"o":-0.21},{"c":"Nonsurvivor","v":0.41,"o":-0.17},{"c":"Nonsurvivor","v":0.39,"o":-0.2},{"c":"Nonsurvivor","v":0.37,"o":-0.24},{"c":"Nonsurvivor","v":0.35,"o":-0.18},{"c":"Nonsurvivor","v":0.33,"o":-0.21},{"c":"Nonsurvivor","v":0.31,"o":-0.16},{"c":"Nonsurvivor","v":0.29,"o":-0.23},{"c":"Nonsurvivor","v":0.27,"o":-0.18},{"c":"Nonsurvivor","v":0.25,"o":-0.21},{"c":"Nonsurvivor","v":0.23,"o":-0.16},{"c":"Nonsurvivor","v":0.2,"o":-0.2},{"c":"Nonsurvivor","v":0.18,"o":-0.23}],
"b4p":[{"c":"Survivor","v":0.858,"o":0.17},{"c":"Survivor","v":0.84,"o":0.17},{"c":"Survivor","v":0.82,"o":0.15},{"c":"Survivor","v":0.81,"o":0.22},{"c":"Survivor","v":0.8,"o":0.18},{"c":"Survivor","v":0.79,"o":0.24},{"c":"Survivor","v":0.78,"o":0.2},{"c":"Survivor","v":0.77,"o":0.16},{"c":"Survivor","v":0.76,"o":0.23},{"c":"Survivor","v":0.75,"o":0.19},{"c":"Survivor","v":0.74,"o":0.25},{"c":"Survivor","v":0.73,"o":0.15},{"c":"Survivor","v":0.72,"o":0.21},{"c":"Survivor","v":0.71,"o":0.18},{"c":"Survivor","v":0.7,"o":0.24},{"c":"Survivor","v":0.69,"o":0.15},{"c":"Survivor","v":0.68,"o":0.2},{"c":"Survivor","v":0.67,"o":0.25},{"c":"Survivor","v":0.66,"o":0.17},{"c":"Survivor","v":0.65,"o":0.22},{"c":"Survivor","v":0.64,"o":0.14},{"c":"Survivor","v":0.63,"o":0.19},{"c":"Survivor","v":0.62,"o":0.24},{"c":"Survivor","v":0.61,"o":0.16},{"c":"Survivor","v":0.6,"o":0.21},{"c":"Survivor","v":0.59,"o":0.25},{"c":"Survivor","v":0.58,"o":0.15},{"c":"Survivor","v":0.57,"o":0.19},{"c":"Survivor","v":0.56,"o":0.23},{"c":"Survivor","v":0.55,"o":0.17},{"c":"Survivor","v":0.54,"o":0.21},{"c":"Survivor","v":0.53,"o":0.24},{"c":"Survivor","v":0.52,"o":0.18},{"c":"Survivor","v":0.515,"o":0.22},{"c":"Survivor","v":0.51,"o":0.2},{"c":"Survivor","v":0.49,"o":0.15},{"c":"Survivor","v":0.455,"o":0.14},{"c":"Survivor","v":0.435,"o":0.2},{"c":"Survivor","v":0.785,"o":0.17},{"c":"Survivor","v":0.775,"o":0.22},{"c":"Survivor","v":0.765,"o":0.19},{"c":"Survivor","v":0.755,"o":0.16},{"c":"Survivor","v":0.745,"o":0.22},{"c":"Survivor","v":0.735,"o":0.2},{"c":"Survivor","v":0.725,"o":0.24},{"c":"Survivor","v":0.715,"o":0.16},{"c":"Survivor","v":0.705,"o":0.21},{"c":"Survivor","v":0.695,"o":0.19},{"c":"Survivor","v":0.685,"o":0.24},{"c":"Survivor","v":0.675,"o":0.16},{"c":"Survivor","v":0.665,"o":0.21},{"c":"Survivor","v":0.655,"o":0.18},{"c":"Survivor","v":0.645,"o":0.24},{"c":"Survivor","v":0.635,"o":0.16},{"c":"Survivor","v":0.625,"o":0.21},{"c":"Survivor","v":0.615,"o":0.19},{"c":"Survivor","v":0.605,"o":0.24},{"c":"Survivor","v":0.595,"o":0.16},{"c":"Survivor","v":0.585,"o":0.21},{"c":"Survivor","v":0.575,"o":0.18},{"c":"Survivor","v":0.565,"o":0.24},{"c":"Survivor","v":0.555,"o":0.2},{"c":"Survivor","v":0.545,"o":0.16},{"c":"Survivor","v":0.535,"o":0.19},{"c":"Survivor","v":0.525,"o":0.22},{"c":"Survivor","v":0.72,"o":0.17},{"c":"Survivor","v":0.7,"o":0.2},{"c":"Survivor","v":0.68,"o":0.22},{"c":"Survivor","v":0.66,"o":0.23},{"c":"Survivor","v":0.64,"o":0.19},{"c":"Survivor","v":0.62,"o":0.17},{"c":"Survivor","v":0.6,"o":0.18},{"c":"Survivor","v":0.58,"o":0.23},{"c":"Survivor","v":0.56,"o":0.19},{"c":"Nonsurvivor","v":0.83,"o":-0.16},{"c":"Nonsurvivor","v":0.825,"o":-0.18},{"c":"Nonsurvivor","v":0.82,"o":-0.2},{"c":"Nonsurvivor","v":0.795,"o":-0.16},{"c":"Nonsurvivor","v":0.785,"o":-0.23},{"c":"Nonsurvivor","v":0.78,"o":-0.19},{"c":"Nonsurvivor","v":0.76,"o":-0.15},{"c":"Nonsurvivor","v":0.75,"o":-0.22},{"c":"Nonsurvivor","v":0.74,"o":-0.18},{"c":"Nonsurvivor","v":0.73,"o":-0.15},{"c":"Nonsurvivor","v":0.72,"o":-0.21},{"c":"Nonsurvivor","v":0.71,"o":-0.17},{"c":"Nonsurvivor","v":0.7,"o":-0.23},{"c":"Nonsurvivor","v":0.69,"o":-0.15},{"c":"Nonsurvivor","v":0.68,"o":-0.2},{"c":"Nonsurvivor","v":0.67,"o":-0.17},{"c":"Nonsurvivor","v":0.66,"o":-0.24},{"c":"Nonsurvivor","v":0.65,"o":-0.14},{"c":"Nonsurvivor","v":0.64,"o":-0.2},{"c":"Nonsurvivor","v":0.63,"o":-0.24},{"c":"Nonsurvivor","v":0.62,"o":-0.17},{"c":"Nonsurvivor","v":0.61,"o":-0.22},{"c":"Nonsurvivor","v":0.605,"o":-0.19},{"c":"Nonsurvivor","v":0.6,"o":-0.23},{"c":"Nonsurvivor","v":0.545,"o":-0.2},{"c":"Nonsurvivor","v":0.52,"o":-0.23},{"c":"Nonsurvivor","v":0.77,"o":-0.19},{"c":"Nonsurvivor","v":0.755,"o":-0.17},{"c":"Nonsurvivor","v":0.745,"o":-0.21},{"c":"Nonsurvivor","v":0.735,"o":-0.24},{"c":"Nonsurvivor","v":0.725,"o":-0.17},{"c":"Nonsurvivor","v":0.715,"o":-0.2},{"c":"Nonsurvivor","v":0.705,"o":-0.16},{"c":"Nonsurvivor","v":0.695,"o":-0.22},{"c":"Nonsurvivor","v":0.685,"o":-0.18},{"c":"Nonsurvivor","v":0.675,"o":-0.23},{"c":"Nonsurvivor","v":0.665,"o":-0.18},{"c":"Nonsurvivor","v":0.655,"o":-0.21},{"c":"Nonsurvivor","v":0.645,"o":-0.17},{"c":"Nonsurvivor","v":0.635,"o":-0.21}]
},
"concat":[
{"width":158,"height":52,"view":{"stroke":null},"data":{"values":[{"a":"A","t":"Sepsis diagnosis cohort"}]},"encoding":{"x":{"datum":-44,"type":"quantitative","scale":{"domain":[0,158]},"axis":null},"y":{"datum":27,"type":"quantitative","scale":{"domain":[0,52]},"axis":null}},"layer":[{"mark":{"type":"text","align":"left","fontSize":13,"fontWeight":"bold"},"encoding":{"text":{"field":"a"}}},{"mark":{"type":"text","align":"left","fontSize":13,"dx":11.7},"encoding":{"text":{"field":"t"}}}]},
{"width":161,"height":52,"view":{"stroke":null},"data":{"values":[]},"mark":"text","encoding":{}},
{"width":158,"height":52,"view":{"stroke":null},"data":{"values":[]},"mark":"text","encoding":{}},
{"width":159,"height":52,"view":{"stroke":null},"data":{"values":[{"icon":"sepsis"}]},"encoding":{"x":{"datum":125,"type":"quantitative","scale":{"domain":[0,159]},"axis":null},"y":{"datum":28,"type":"quantitative","scale":{"domain":[0,52]},"axis":null}},"layer":[
{"mark":{"type":"rect","fill":"#a2c655","stroke":"#666","strokeWidth":0.7},"encoding":{"x":{"datum":113,"type":"quantitative","scale":{"domain":[0,159]},"axis":null},"x2":{"datum":136.5},"y":{"datum":52,"type":"quantitative","scale":{"domain":[0,52]},"axis":null},"y2":{"datum":4}}},
{"mark":{"type":"rect","fill":"#c8564b","stroke":"#666","strokeWidth":0.7},"encoding":{"x":{"datum":136.5,"type":"quantitative","scale":{"domain":[0,159]},"axis":null},"x2":{"datum":160},"y":{"datum":52,"type":"quantitative","scale":{"domain":[0,52]},"axis":null},"y2":{"datum":4}}},
{"mark":{"type":"point","filled":true,"fill":"#fff","stroke":null,"size":1936,"shape":"M0,-0.98A0.22,0.22 0 1 1 0,-0.54A0.22,0.22 0 1 1 0,-0.98ZM-0.2,-0.5L0.2,-0.5Q0.3,-0.5 0.34,-0.4L0.5,0.05L0.41,0.1L0.21,-0.26L0.21,0.95L0.04,0.95L0.04,0.2L-0.04,0.2L-0.04,0.95L-0.21,0.95L-0.21,-0.26L-0.41,0.1L-0.5,0.05L-0.34,-0.4Q-0.3,-0.5 -0.2,-0.5Z"}},
{"mark":{"type":"point","filled":true,"fill":"#fff","stroke":null,"size":1936,"shape":"M0,-0.98A0.22,0.22 0 1 1 0,-0.54A0.22,0.22 0 1 1 0,-0.98ZM-0.2,-0.5L0.2,-0.5Q0.3,-0.5 0.34,-0.4L0.5,0.05L0.41,0.1L0.21,-0.26L0.21,0.95L0.04,0.95L0.04,0.2L-0.04,0.2L-0.04,0.95L-0.21,0.95L-0.21,-0.26L-0.41,0.1L-0.5,0.05L-0.34,-0.4Q-0.3,-0.5 -0.2,-0.5ZM-0.34,-0.42Q-0.46,-0.15 -0.2,0L0.2,0Q0.46,-0.15 0.34,-0.42Z"},"encoding":{"x":{"datum":148.5,"type":"quantitative","scale":{"domain":[0,159]},"axis":null}}},
{"mark":{"type":"point","filled":true,"fill":"#c8564b","stroke":null,"size":110,"shape":"M0,-1L0.3,-0.6L0.8,-0.8L0.65,-0.3L1,0L0.65,0.3L0.8,0.8L0.3,0.6L0,1L-0.3,0.6L-0.8,0.8L-0.65,0.3L-1,0L-0.65,-0.3L-0.8,-0.8L-0.3,-0.6Z"},"encoding":{"x":{"datum":148.5,"type":"quantitative","scale":{"domain":[0,159]},"axis":null},"y":{"datum":32,"type":"quantitative","scale":{"domain":[0,52]},"axis":null}}}]},
{"width":158,"height":141,"title":"Oxygen saturation","encoding":{"x":{"field":"c","type":"nominal","sort":null,"scale":{"domain":["No sepsis","Sepsis"],"paddingInner":0,"paddingOuter":0},"title":"Sepsis status"}},"layer":[
{"data":{"name":"a1b"},"mark":{"type":"rule","stroke":"#666","strokeWidth":1.5},"encoding":{"y":{"field":"lo","type":"quantitative","scale":{"domain":[0.247,0.802],"nice":false},"axis":{"values":[0.4,0.6,0.8],"format":".1f","title":"Index value (a.u.)"}},"y2":{"field":"hi"}}},
{"data":{"name":"a1b"},"mark":{"type":"point","shape":"M-1,0L1,0","size":1024,"stroke":"#666","strokeWidth":1.5},"encoding":{"y":{"field":"lo","type":"quantitative"}}},
{"data":{"name":"a1b"},"mark":{"type":"point","shape":"M-1,0L1,0","size":1024,"stroke":"#666","strokeWidth":1.5},"encoding":{"y":{"field":"hi","type":"quantitative"}}},
{"data":{"name":"a1b"},"mark":{"type":"bar","width":64,"stroke":"#666","strokeWidth":1.5},"encoding":{"y":{"field":"q1","type":"quantitative"},"y2":{"field":"q3"},"fill":{"field":"c","scale":{"domain":["No sepsis","Sepsis","Survivor","Nonsurvivor"],"range":["#cfdfb0","#e1b1ac","#aebaa0","#ba8583"]},"legend":null}}},
{"data":{"name":"a1b"},"mark":{"type":"point","shape":"M-1,0L1,0","size":4096,"stroke":"#666","strokeWidth":1.5},"encoding":{"y":{"field":"med","type":"quantitative"}}},
{"data":{"name":"a1b"},"mark":{"type":"point","shape":"M-1,0L1,0","size":4096,"stroke":"#111","strokeWidth":1.3,"strokeDash":[1.5,2]},"encoding":{"y":{"field":"mean","type":"quantitative"}}},
{"data":{"name":"a1p"},"mark":{"type":"point","filled":true,"size":15,"stroke":"#555","strokeWidth":0.7},"encoding":{"y":{"field":"v","type":"quantitative"},"xOffset":{"field":"o","type":"quantitative","scale":{"domain":[-0.5,0.5],"range":[0,79]}},"color":{"field":"c","scale":{"domain":["No sepsis","Sepsis","Survivor","Nonsurvivor"],"range":["#a2c655","#c8564b","#566d33","#7f1416"]},"legend":null}}}]},
{"width":161,"height":141,"title":"Perfusion index","encoding":{"x":{"field":"c","type":"nominal","sort":null,"scale":{"domain":["No sepsis","Sepsis"],"paddingInner":0,"paddingOuter":0},"title":"Sepsis status"}},"layer":[
{"data":{"name":"a2b"},"mark":{"type":"rule","stroke":"#666","strokeWidth":1.5},"encoding":{"y":{"field":"lo","type":"quantitative","scale":{"domain":[-0.031,0.662],"nice":false},"axis":{"values":[0,0.2,0.4,0.6],"format":".1f","title":null}},"y2":{"field":"hi"}}},
{"data":{"name":"a2b"},"mark":{"type":"point","shape":"M-1,0L1,0","size":1024,"stroke":"#666","strokeWidth":1.5},"encoding":{"y":{"field":"lo","type":"quantitative"}}},
{"data":{"name":"a2b"},"mark":{"type":"point","shape":"M-1,0L1,0","size":1024,"stroke":"#666","strokeWidth":1.5},"encoding":{"y":{"field":"hi","type":"quantitative"}}},
{"data":{"name":"a2b"},"mark":{"type":"bar","width":64,"stroke":"#666","strokeWidth":1.5},"encoding":{"y":{"field":"q1","type":"quantitative"},"y2":{"field":"q3"},"fill":{"field":"c","scale":{"domain":["No sepsis","Sepsis","Survivor","Nonsurvivor"],"range":["#cfdfb0","#e1b1ac","#aebaa0","#ba8583"]},"legend":null}}},
{"data":{"name":"a2b"},"mark":{"type":"point","shape":"M-1,0L1,0","size":4096,"stroke":"#666","strokeWidth":1.5},"encoding":{"y":{"field":"med","type":"quantitative"}}},
{"data":{"name":"a2b"},"mark":{"type":"point","shape":"M-1,0L1,0","size":4096,"stroke":"#111","strokeWidth":1.3,"strokeDash":[1.5,2]},"encoding":{"y":{"field":"mean","type":"quantitative"}}},
{"data":{"name":"a2p"},"mark":{"type":"point","filled":true,"size":15,"stroke":"#555","strokeWidth":0.7},"encoding":{"y":{"field":"v","type":"quantitative"},"xOffset":{"field":"o","type":"quantitative","scale":{"domain":[-0.5,0.5],"range":[0,80.5]}},"color":{"field":"c","scale":{"domain":["No sepsis","Sepsis","Survivor","Nonsurvivor"],"range":["#a2c655","#c8564b","#566d33","#7f1416"]},"legend":null}}}]},
{"width":158,"height":141,"title":"Hemoglobin index","encoding":{"x":{"field":"c","type":"nominal","sort":null,"scale":{"domain":["No sepsis","Sepsis"],"paddingInner":0,"paddingOuter":0},"title":"Sepsis status"}},"layer":[
{"data":{"name":"a3b"},"mark":{"type":"rule","stroke":"#666","strokeWidth":1.5},"encoding":{"y":{"field":"lo","type":"quantitative","scale":{"domain":[-0.042,0.885],"nice":false},"axis":{"values":[0,0.2,0.4,0.6,0.8],"format":".1f","title":null}},"y2":{"field":"hi"}}},
{"data":{"name":"a3b"},"mark":{"type":"point","shape":"M-1,0L1,0","size":1024,"stroke":"#666","strokeWidth":1.5},"encoding":{"y":{"field":"lo","type":"quantitative"}}},
{"data":{"name":"a3b"},"mark":{"type":"point","shape":"M-1,0L1,0","size":1024,"stroke":"#666","strokeWidth":1.5},"encoding":{"y":{"field":"hi","type":"quantitative"}}},
{"data":{"name":"a3b"},"mark":{"type":"bar","width":64,"stroke":"#666","strokeWidth":1.5},"encoding":{"y":{"field":"q1","type":"quantitative"},"y2":{"field":"q3"},"fill":{"field":"c","scale":{"domain":["No sepsis","Sepsis","Survivor","Nonsurvivor"],"range":["#cfdfb0","#e1b1ac","#aebaa0","#ba8583"]},"legend":null}}},
{"data":{"name":"a3b"},"mark":{"type":"point","shape":"M-1,0L1,0","size":4096,"stroke":"#666","strokeWidth":1.5},"encoding":{"y":{"field":"med","type":"quantitative"}}},
{"data":{"name":"a3b"},"mark":{"type":"point","shape":"M-1,0L1,0","size":4096,"stroke":"#111","strokeWidth":1.3,"strokeDash":[1.5,2]},"encoding":{"y":{"field":"mean","type":"quantitative"}}},
{"data":{"name":"a3p"},"mark":{"type":"point","filled":true,"size":15,"stroke":"#555","strokeWidth":0.7},"encoding":{"y":{"field":"v","type":"quantitative"},"xOffset":{"field":"o","type":"quantitative","scale":{"domain":[-0.5,0.5],"range":[0,79]}},"color":{"field":"c","scale":{"domain":["No sepsis","Sepsis","Survivor","Nonsurvivor"],"range":["#a2c655","#c8564b","#566d33","#7f1416"]},"legend":null}}}]},
{"width":159,"height":141,"title":"Water index","encoding":{"x":{"field":"c","type":"nominal","sort":null,"scale":{"domain":["No sepsis","Sepsis"],"paddingInner":0,"paddingOuter":0},"title":"Sepsis status"}},"layer":[
{"data":{"name":"a4b"},"mark":{"type":"rule","stroke":"#666","strokeWidth":1.5},"encoding":{"y":{"field":"lo","type":"quantitative","scale":{"domain":[0.414,0.873],"nice":false},"axis":{"values":[0.5,0.6,0.7,0.8],"format":".1f","title":null}},"y2":{"field":"hi"}}},
{"data":{"name":"a4b"},"mark":{"type":"point","shape":"M-1,0L1,0","size":1024,"stroke":"#666","strokeWidth":1.5},"encoding":{"y":{"field":"lo","type":"quantitative"}}},
{"data":{"name":"a4b"},"mark":{"type":"point","shape":"M-1,0L1,0","size":1024,"stroke":"#666","strokeWidth":1.5},"encoding":{"y":{"field":"hi","type":"quantitative"}}},
{"data":{"name":"a4b"},"mark":{"type":"bar","width":64,"stroke":"#666","strokeWidth":1.5},"encoding":{"y":{"field":"q1","type":"quantitative"},"y2":{"field":"q3"},"fill":{"field":"c","scale":{"domain":["No sepsis","Sepsis","Survivor","Nonsurvivor"],"range":["#cfdfb0","#e1b1ac","#aebaa0","#ba8583"]},"legend":null}}},
{"data":{"name":"a4b"},"mark":{"type":"point","shape":"M-1,0L1,0","size":4096,"stroke":"#666","strokeWidth":1.5},"encoding":{"y":{"field":"med","type":"quantitative"}}},
{"data":{"name":"a4b"},"mark":{"type":"point","shape":"M-1,0L1,0","size":4096,"stroke":"#111","strokeWidth":1.3,"strokeDash":[1.5,2]},"encoding":{"y":{"field":"mean","type":"quantitative"}}},
{"data":{"name":"a4p"},"mark":{"type":"point","filled":true,"size":15,"stroke":"#555","strokeWidth":0.7},"encoding":{"y":{"field":"v","type":"quantitative"},"xOffset":{"field":"o","type":"quantitative","scale":{"domain":[-0.5,0.5],"range":[0,79.5]}},"color":{"field":"c","scale":{"domain":["No sepsis","Sepsis","Survivor","Nonsurvivor"],"range":["#a2c655","#c8564b","#566d33","#7f1416"]},"legend":null}}}]},
{"width":158,"height":116,"view":{"stroke":null},"data":{"values":[{"a":"B","t":"Mortality prediction cohort"}]},"encoding":{"x":{"datum":-44,"type":"quantitative","scale":{"domain":[0,158]},"axis":null},"y":{"datum":32,"type":"quantitative","scale":{"domain":[0,116]},"axis":null}},"layer":[{"mark":{"type":"text","align":"left","fontSize":13,"fontWeight":"bold"},"encoding":{"text":{"field":"a"}}},{"mark":{"type":"text","align":"left","fontSize":13,"dx":11.2},"encoding":{"text":{"field":"t"}}}]},
{"width":161,"height":116,"view":{"stroke":null},"data":{"values":[]},"mark":"text","encoding":{}},
{"width":158,"height":116,"view":{"stroke":null},"data":{"values":[]},"mark":"text","encoding":{}},
{"width":159,"height":116,"view":{"stroke":null},"data":{"values":[{"icon":"mortality"}]},"encoding":{"x":{"datum":148.5,"type":"quantitative","scale":{"domain":[0,159]},"axis":null},"y":{"datum":33,"type":"quantitative","scale":{"domain":[0,116]},"axis":null}},"layer":[
{"mark":{"type":"rect","fill":"#566d33","stroke":"#666","strokeWidth":0.7},"encoding":{"x":{"datum":113,"type":"quantitative","scale":{"domain":[0,159]},"axis":null},"x2":{"datum":136.5},"y":{"datum":55,"type":"quantitative","scale":{"domain":[0,116]},"axis":null},"y2":{"datum":11}}},
{"mark":{"type":"rect","fill":"#7f1416","stroke":"#666","strokeWidth":0.7},"encoding":{"x":{"datum":136.5,"type":"quantitative","scale":{"domain":[0,159]},"axis":null},"x2":{"datum":160},"y":{"datum":55,"type":"quantitative","scale":{"domain":[0,116]},"axis":null},"y2":{"datum":11}}},
{"mark":{"type":"point","filled":true,"fill":"#fff","stroke":null,"size":1600,"shape":"M0,-0.98A0.22,0.22 0 1 1 0,-0.54A0.22,0.22 0 1 1 0,-0.98ZM-0.2,-0.5L0.2,-0.5Q0.3,-0.5 0.34,-0.4L0.5,0.05L0.41,0.1L0.21,-0.26L0.21,0.95L0.04,0.95L0.04,0.2L-0.04,0.2L-0.04,0.95L-0.21,0.95L-0.21,-0.26L-0.41,0.1L-0.5,0.05L-0.34,-0.4Q-0.3,-0.5 -0.2,-0.5Z"},"encoding":{"x":{"datum":125,"type":"quantitative","scale":{"domain":[0,159]},"axis":null}}},
{"mark":{"type":"point","filled":true,"fill":"#fff","stroke":null,"size":1600,"shape":"M-0.3,-0.95L0.3,-0.95L0.48,-0.35L0.3,0.95L-0.3,0.95L-0.48,-0.35Z"}},
{"mark":{"type":"point","filled":true,"fill":"#7f1416","stroke":null,"size":1600,"shape":"M0,-0.62C0.16,-0.62 0.24,-0.5 0.24,-0.38C0.24,-0.26 0.18,-0.2 0.13,-0.17L0.13,-0.05L-0.13,-0.05L-0.13,-0.17C-0.18,-0.2 -0.24,-0.26 -0.24,-0.38C-0.24,-0.5 -0.16,-0.62 0,-0.62Z"}},
{"mark":{"type":"point","filled":false,"stroke":"#7f1416","strokeWidth":2.4,"size":1600,"shape":"M-0.36,0.08L0.36,0.48M0.36,0.08L-0.36,0.48"}},
{"mark":{"type":"point","filled":true,"fill":"#fff","stroke":null,"size":1600,"shape":"M-0.14,-0.38A0.07,0.07 0 1 1 -0.01,-0.38A0.07,0.07 0 1 1 -0.14,-0.38ZM0.01,-0.38A0.07,0.07 0 1 1 0.14,-0.38A0.07,0.07 0 1 1 0.01,-0.38Z"}}]},
{"width":158,"height":141,"title":"Oxygen saturation","encoding":{"x":{"field":"c","type":"nominal","sort":null,"scale":{"domain":["Survivor","Nonsurvivor"],"paddingInner":0,"paddingOuter":0},"title":"Survival status"}},"layer":[
{"data":{"name":"b1b"},"mark":{"type":"rule","stroke":"#444","strokeWidth":1.5},"encoding":{"y":{"field":"lo","type":"quantitative","scale":{"domain":[0.246,0.842],"nice":false},"axis":{"values":[0.4,0.6,0.8],"format":".1f","title":"Index value (a.u.)"}},"y2":{"field":"hi"}}},
{"data":{"name":"b1b"},"mark":{"type":"point","shape":"M-1,0L1,0","size":1024,"stroke":"#444","strokeWidth":1.5},"encoding":{"y":{"field":"lo","type":"quantitative"}}},
{"data":{"name":"b1b"},"mark":{"type":"point","shape":"M-1,0L1,0","size":1024,"stroke":"#444","strokeWidth":1.5},"encoding":{"y":{"field":"hi","type":"quantitative"}}},
{"data":{"name":"b1b"},"mark":{"type":"bar","width":64,"stroke":"#444","strokeWidth":1.5},"encoding":{"y":{"field":"q1","type":"quantitative"},"y2":{"field":"q3"},"fill":{"field":"c","scale":{"domain":["No sepsis","Sepsis","Survivor","Nonsurvivor"],"range":["#cfdfb0","#e1b1ac","#aebaa0","#ba8583"]},"legend":null}}},
{"data":{"name":"b1b"},"mark":{"type":"point","shape":"M-1,0L1,0","size":4096,"stroke":"#444","strokeWidth":1.5},"encoding":{"y":{"field":"med","type":"quantitative"}}},
{"data":{"name":"b1b"},"mark":{"type":"point","shape":"M-1,0L1,0","size":4096,"stroke":"#111","strokeWidth":1.3,"strokeDash":[1.5,2]},"encoding":{"y":{"field":"mean","type":"quantitative"}}},
{"data":{"name":"b1p"},"mark":{"type":"point","filled":true,"size":15,"stroke":"#333","strokeWidth":0.7},"encoding":{"y":{"field":"v","type":"quantitative"},"xOffset":{"field":"o","type":"quantitative","scale":{"domain":[-0.5,0.5],"range":[0,79]}},"color":{"field":"c","scale":{"domain":["No sepsis","Sepsis","Survivor","Nonsurvivor"],"range":["#a2c655","#c8564b","#566d33","#7f1416"]},"legend":null}}}]},
{"width":161,"height":141,"title":"Perfusion index","encoding":{"x":{"field":"c","type":"nominal","sort":null,"scale":{"domain":["Survivor","Nonsurvivor"],"paddingInner":0,"paddingOuter":0},"title":"Survival status"}},"layer":[
{"data":{"name":"b2b"},"mark":{"type":"rule","stroke":"#444","strokeWidth":1.5},"encoding":{"y":{"field":"lo","type":"quantitative","scale":{"domain":[-0.031,0.662],"nice":false},"axis":{"values":[0,0.2,0.4,0.6],"format":".1f","title":null}},"y2":{"field":"hi"}}},
{"data":{"name":"b2b"},"mark":{"type":"point","shape":"M-1,0L1,0","size":1024,"stroke":"#444","strokeWidth":1.5},"encoding":{"y":{"field":"lo","type":"quantitative"}}},
{"data":{"name":"b2b"},"mark":{"type":"point","shape":"M-1,0L1,0","size":1024,"stroke":"#444","strokeWidth":1.5},"encoding":{"y":{"field":"hi","type":"quantitative"}}},
{"data":{"name":"b2b"},"mark":{"type":"bar","width":64,"stroke":"#444","strokeWidth":1.5},"encoding":{"y":{"field":"q1","type":"quantitative"},"y2":{"field":"q3"},"fill":{"field":"c","scale":{"domain":["No sepsis","Sepsis","Survivor","Nonsurvivor"],"range":["#cfdfb0","#e1b1ac","#aebaa0","#ba8583"]},"legend":null}}},
{"data":{"name":"b2b"},"mark":{"type":"point","shape":"M-1,0L1,0","size":4096,"stroke":"#444","strokeWidth":1.5},"encoding":{"y":{"field":"med","type":"quantitative"}}},
{"data":{"name":"b2b"},"mark":{"type":"point","shape":"M-1,0L1,0","size":4096,"stroke":"#111","strokeWidth":1.3,"strokeDash":[1.5,2]},"encoding":{"y":{"field":"mean","type":"quantitative"}}},
{"data":{"name":"b2p"},"mark":{"type":"point","filled":true,"size":15,"stroke":"#333","strokeWidth":0.7},"encoding":{"y":{"field":"v","type":"quantitative"},"xOffset":{"field":"o","type":"quantitative","scale":{"domain":[-0.5,0.5],"range":[0,80.5]}},"color":{"field":"c","scale":{"domain":["No sepsis","Sepsis","Survivor","Nonsurvivor"],"range":["#a2c655","#c8564b","#566d33","#7f1416"]},"legend":null}}}]},
{"width":158,"height":141,"title":"Hemoglobin index","encoding":{"x":{"field":"c","type":"nominal","sort":null,"scale":{"domain":["Survivor","Nonsurvivor"],"paddingInner":0,"paddingOuter":0},"title":"Survival status"}},"layer":[
{"data":{"name":"b3b"},"mark":{"type":"rule","stroke":"#444","strokeWidth":1.5},"encoding":{"y":{"field":"lo","type":"quantitative","scale":{"domain":[-0.042,0.885],"nice":false},"axis":{"values":[0,0.2,0.4,0.6,0.8],"format":".1f","title":null}},"y2":{"field":"hi"}}},
{"data":{"name":"b3b"},"mark":{"type":"point","shape":"M-1,0L1,0","size":1024,"stroke":"#444","strokeWidth":1.5},"encoding":{"y":{"field":"lo","type":"quantitative"}}},
{"data":{"name":"b3b"},"mark":{"type":"point","shape":"M-1,0L1,0","size":1024,"stroke":"#444","strokeWidth":1.5},"encoding":{"y":{"field":"hi","type":"quantitative"}}},
{"data":{"name":"b3b"},"mark":{"type":"bar","width":64,"stroke":"#444","strokeWidth":1.5},"encoding":{"y":{"field":"q1","type":"quantitative"},"y2":{"field":"q3"},"fill":{"field":"c","scale":{"domain":["No sepsis","Sepsis","Survivor","Nonsurvivor"],"range":["#cfdfb0","#e1b1ac","#aebaa0","#ba8583"]},"legend":null}}},
{"data":{"name":"b3b"},"mark":{"type":"point","shape":"M-1,0L1,0","size":4096,"stroke":"#444","strokeWidth":1.5},"encoding":{"y":{"field":"med","type":"quantitative"}}},
{"data":{"name":"b3b"},"mark":{"type":"point","shape":"M-1,0L1,0","size":4096,"stroke":"#111","strokeWidth":1.3,"strokeDash":[1.5,2]},"encoding":{"y":{"field":"mean","type":"quantitative"}}},
{"data":{"name":"b3p"},"mark":{"type":"point","filled":true,"size":15,"stroke":"#333","strokeWidth":0.7},"encoding":{"y":{"field":"v","type":"quantitative"},"xOffset":{"field":"o","type":"quantitative","scale":{"domain":[-0.5,0.5],"range":[0,79]}},"color":{"field":"c","scale":{"domain":["No sepsis","Sepsis","Survivor","Nonsurvivor"],"range":["#a2c655","#c8564b","#566d33","#7f1416"]},"legend":null}}}]},
{"width":159,"height":141,"title":"Water index","encoding":{"x":{"field":"c","type":"nominal","sort":null,"scale":{"domain":["Survivor","Nonsurvivor"],"paddingInner":0,"paddingOuter":0},"title":"Survival status"}},"layer":[
{"data":{"name":"b4b"},"mark":{"type":"rule","stroke":"#444","strokeWidth":1.5},"encoding":{"y":{"field":"lo","type":"quantitative","scale":{"domain":[0.414,0.879],"nice":false},"axis":{"values":[0.5,0.6,0.7,0.8],"format":".1f","title":null}},"y2":{"field":"hi"}}},
{"data":{"name":"b4b"},"mark":{"type":"point","shape":"M-1,0L1,0","size":1024,"stroke":"#444","strokeWidth":1.5},"encoding":{"y":{"field":"lo","type":"quantitative"}}},
{"data":{"name":"b4b"},"mark":{"type":"point","shape":"M-1,0L1,0","size":1024,"stroke":"#444","strokeWidth":1.5},"encoding":{"y":{"field":"hi","type":"quantitative"}}},
{"data":{"name":"b4b"},"mark":{"type":"bar","width":64,"stroke":"#444","strokeWidth":1.5},"encoding":{"y":{"field":"q1","type":"quantitative"},"y2":{"field":"q3"},"fill":{"field":"c","scale":{"domain":["No sepsis","Sepsis","Survivor","Nonsurvivor"],"range":["#cfdfb0","#e1b1ac","#aebaa0","#ba8583"]},"legend":null}}},
{"data":{"name":"b4b"},"mark":{"type":"point","shape":"M-1,0L1,0","size":4096,"stroke":"#444","strokeWidth":1.5},"encoding":{"y":{"field":"med","type":"quantitative"}}},
{"data":{"name":"b4b"},"mark":{"type":"point","shape":"M-1,0L1,0","size":4096,"stroke":"#111","strokeWidth":1.3,"strokeDash":[1.5,2]},"encoding":{"y":{"field":"mean","type":"quantitative"}}},
{"data":{"name":"b4p"},"mark":{"type":"point","filled":true,"size":15,"stroke":"#333","strokeWidth":0.7},"encoding":{"y":{"field":"v","type":"quantitative"},"xOffset":{"field":"o","type":"quantitative","scale":{"domain":[-0.5,0.5],"range":[0,79.5]}},"color":{"field":"c","scale":{"domain":["No sepsis","Sepsis","Survivor","Nonsurvivor"],"range":["#a2c655","#c8564b","#566d33","#7f1416"]},"legend":null}}}]}
]}
